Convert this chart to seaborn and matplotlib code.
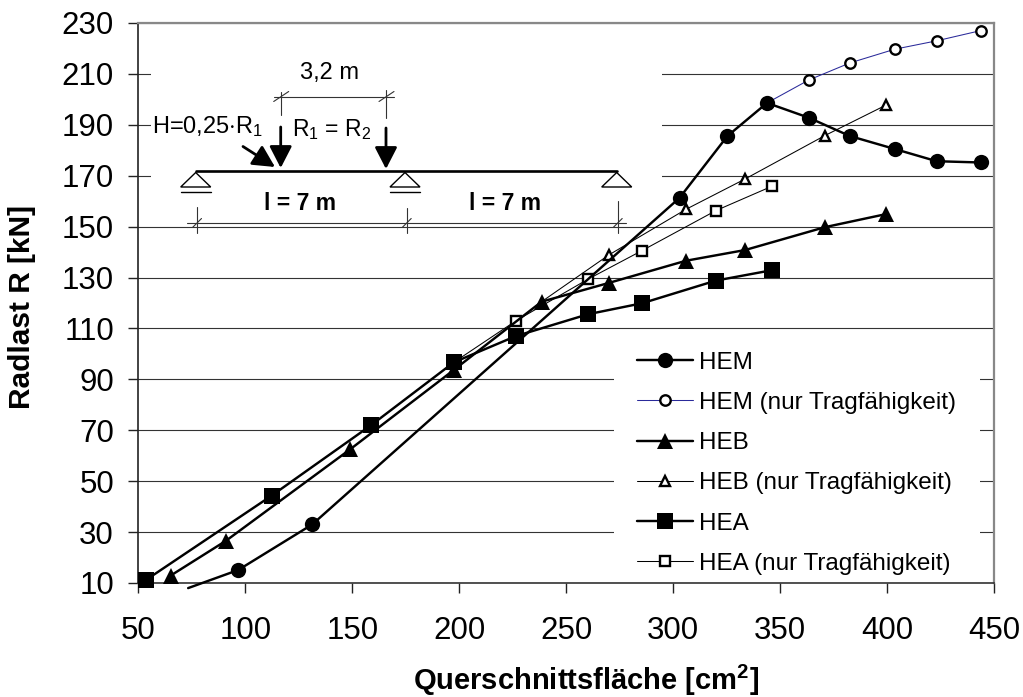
import matplotlib
matplotlib.use("Agg")
import matplotlib.pyplot as plt
from matplotlib.patches import Rectangle, Polygon
import seaborn as sns

# values
hem_x = [73.3, 96.7, 131.3, 303, 325.4, 343.9, 363.4, 382.6, 403.6, 423.2, 443.7]
hem_y = [8.0, 15.1, 33, 161.3, 185.6, 198.6, 192.8, 185.6, 180.5, 175.7, 175.2]
hem_n_x = [343.9, 363.4, 382.6, 403.6, 423.2, 443.7]
hem_n_y = [198.6, 207.6, 214.3, 219.7, 223, 227]
heb_x = [65.1, 91, 149, 197.5, 238.5, 270, 306, 333.6, 371, 399.4]
heb_y = [12.9, 26.6, 62.5, 93.7, 120.5, 127.9, 136.6, 140.8, 149.8, 154.9]
heb_n_x = [238.5, 270, 306, 333.6, 371, 399.4]
heb_n_y = [120.5, 138.9, 156.8, 168.7, 185.8, 197.7]
hea_x = [53.6, 112.3, 159, 197.5, 226.5, 260.3, 285.5, 320, 346.3]
hea_y = [11.2, 44.3, 72.1, 96.7, 107, 115.6, 119.9, 128.8, 132.9]
hea_n_x = [197.5, 226.5, 260.3, 285.5, 320, 346.3]
hea_n_y = [96.7, 113, 129.4, 140.6, 156.3, 165.9]
x_ticks = list(range(50, 451, 50))
y_ticks = list(range(10, 231, 20))

sns.set_theme(style="white", rc={"text.color": "black", "xtick.color": "black", "ytick.color": "black"})
plt.rcParams["font.family"] = ["Liberation Sans", "DejaVu Sans"]
plt.rcParams["mathtext.fontset"] = "custom"
plt.rcParams["mathtext.rm"] = "Liberation Sans"
plt.rcParams["mathtext.bf"] = "Liberation Sans:bold"
plt.rcParams["mathtext.default"] = "rm"

W, H = 1023, 697
fig = plt.figure(figsize=(W / 100, H / 100), dpi=100, facecolor="white")
L, R, T, B = 138.3, 994, 23, 583
ax = fig.add_axes([L / W, 1 - B / H, (R - L) / W, (B - T) / H])

thick = dict(linewidth=1.75, color="black", markeredgecolor="black", markeredgewidth=0, markersize=11)
thin = dict(linewidth=0.75, color="black", markeredgecolor="black", markerfacecolor="white",
            markeredgewidth=1.7, markersize=7.5)


def draw(x, y, marker, label, style, **kw):
    opts = {**style, **kw}
    sns.lineplot(x=x, y=y, marker=marker, label=label, ax=ax, errorbar=None, sort=False,
                 clip_on=False, zorder=3 if style is thick else 2.5, **opts)


draw(hem_x, hem_y, "o", "HEM", thick, markevery=list(range(1, len(hem_x))))
draw(hem_n_x, hem_n_y, "o", "HEM (nur Tragfähigkeit)", thin, markevery=list(range(1, len(hem_n_x))))
hem_n_line = ax.lines[-1]
draw(heb_x, heb_y, "^", "HEB", thick, markersize=11.5)
draw(heb_n_x, heb_n_y, "^", "HEB (nur Tragfähigkeit)", thin, markevery=list(range(1, len(heb_n_x))))
draw(hea_x, hea_y, "s", "HEA", thick, markersize=11)
draw(hea_n_x, hea_n_y, "s", "HEA (nur Tragfähigkeit)", thin, markevery=list(range(1, len(hea_n_x))))

ax.set_xlim(50, 450)
ax.set_ylim(10, 230)
ax.set_xticks(x_ticks)
ax.set_yticks(y_ticks)
ax.tick_params(axis="both", labelsize=22.5, length=7, width=1, color="#222222", bottom=True, left=True)
ax.tick_params(axis="x", pad=17)
ax.tick_params(axis="y", pad=10.5)
ax.set_xlabel("")
ax.set_ylabel("")
ax.grid(axis="y", color="#333333", linewidth=0.8)
ax.set_axisbelow(True)
for s, c, w in [("left", "#222222", 1.2), ("bottom", "#333333", 1.2), ("right", "#888888", 1.6), ("top", "#888888", 1.6)]:
    ax.spines[s].set_visible(True)
    ax.spines[s].set_color(c)
    ax.spines[s].set_linewidth(w)


def px_x(p):
    return 50 + (p - L) / (R - L) * 400


def px_y(p):
    return 10 + (B - p) / (B - T) * 220


# white boxes behind sketch and legend hide the gridlines
for x0, x1, y0, y1 in [(151, 662, 40, 215), (614, 980, 345, 578)]:
    ax.add_patch(Rectangle((px_x(x0), px_y(y1)), px_x(x1) - px_x(x0), px_y(y0) - px_y(y1),
                           facecolor="white", edgecolor="none", zorder=1.5))

leg = ax.legend(loc="upper left", bbox_to_anchor=(627.5 / W, 1 - 342 / H), bbox_transform=fig.transFigure,
                frameon=False, fontsize=17.5, handlelength=2.3, handletextpad=0.25, labelspacing=0.75,
                borderpad=0.4, borderaxespad=0)
# only the line is blue, the ring stays black
hem_n_line.set_color("#2a2a9a")
leg.get_lines()[1].set_color("#2a2a9a")

# beam sketch, in pixel coordinates of the figure
sk = fig.add_axes([0, 0, 1, 1])
sk.set_xlim(0, W)
sk.set_ylim(H, 0)
sk.axis("off")
sk.patch.set_alpha(0)

sk.plot([195.7, 616.7], [171, 171], color="black", lw=1.9)
for xc, dbl in [(195.7, True), (405, True), (616.7, False)]:
    sk.add_patch(Polygon([(xc, 172.5), (xc - 15, 187), (xc + 15, 187)], closed=True, fc="white", ec="black", lw=1))
    if dbl:
        sk.plot([xc - 15, xc + 15], [191.5, 191.5], color="black", lw=1)

for x0, y0, x1, y1 in [(280.7, 127, 280.7, 168), (386, 128, 386, 169), (243, 146.5, 275, 167)]:
    sk.annotate("", xy=(x1, y1), xytext=(x0, y0),
                arrowprops=dict(arrowstyle="-|>,head_length=0.7,head_width=0.36", color="black", lw=2.0,
                                shrinkA=0, shrinkB=0, mutation_scale=19))

dim = dict(color="#333333", lw=0.8)
sk.plot([274, 394], [97.3, 97.3], **dim)
sk.plot([280.7, 280.7], [91.7, 115], **dim)
sk.plot([386, 386], [90, 118], **dim)
sk.plot([187.3, 625.7], [223, 223], **dim)
for xc, y0, y1 in [(197, 206.7, 233.3), (406.7, 208, 233.3), (617.7, 200.7, 233.3)]:
    sk.plot([xc, xc], [y0, y1], **dim)
    sk.plot([xc - 4.5, xc + 4.5], [227.5, 218.5], **dim)
for xc in [280.7, 386]:
    sk.plot([xc - 7, xc + 8], [101.5, 91.5], **dim)

sk.text(330, 73, "3,2 m", fontsize=17, ha="center", va="center")
sk.text(151.7, 127, r"H=0,25$\cdot$R$_1$", fontsize=17, ha="left", va="center")
sk.text(291.7, 130, r"R$_1$ = R$_2$", fontsize=16.5, ha="left", va="center")
sk.text(300, 203.3, "l = 7 m", fontsize=16.5, fontweight="bold", ha="center", va="center")
sk.text(505, 203.3, "l = 7 m", fontsize=16.5, fontweight="bold", ha="center", va="center")

sk.text(22, 307, "Radlast R [kN]", fontsize=21.5, fontweight="bold", rotation=90, ha="center", va="center")
sk.text(586, 680, r"Querschnittsfläche [cm$\mathbf{^2}$]", fontsize=21, fontweight="bold", ha="center", va="center")

fig.savefig("out.png", dpi=100)
